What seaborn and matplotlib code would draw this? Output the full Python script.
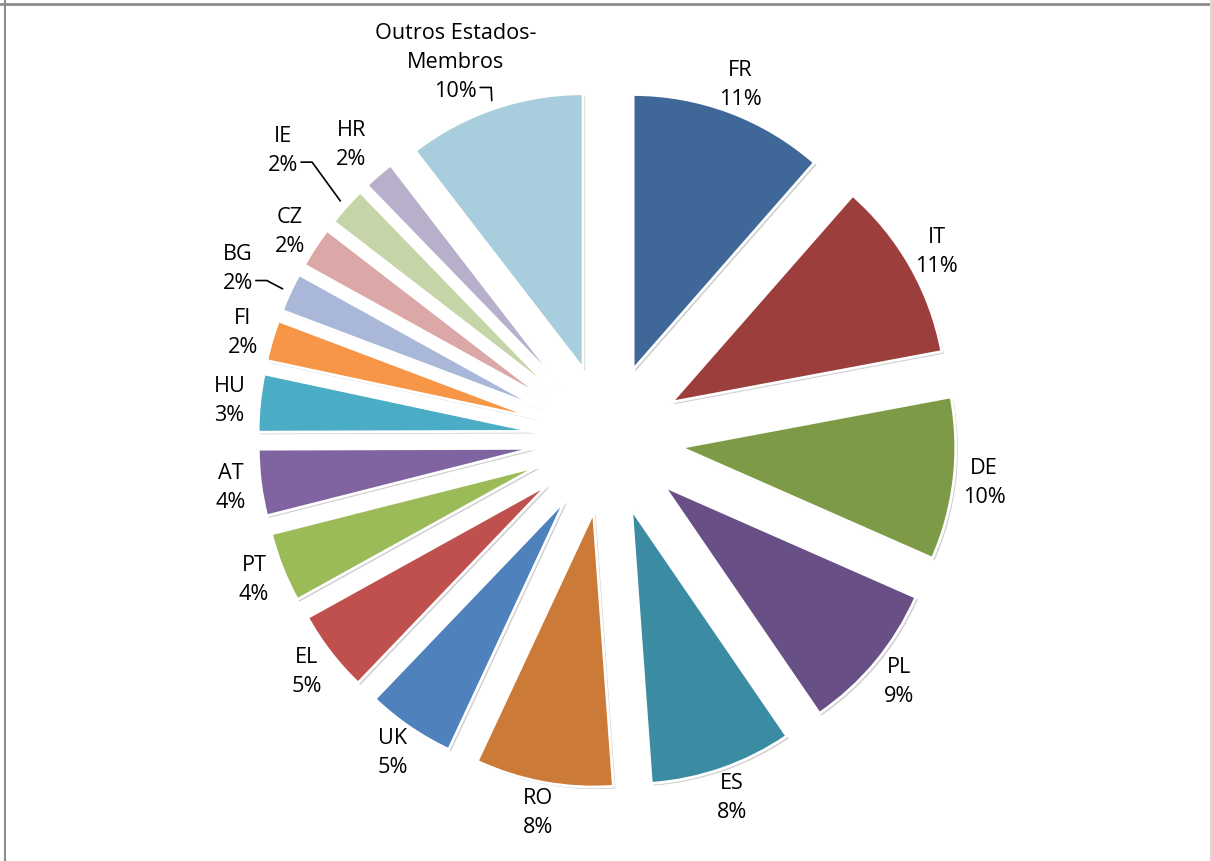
import numpy as np
import matplotlib.pyplot as plt
import matplotlib.patheffects as pe
from matplotlib.lines import Line2D
import seaborn as sns

# shares per Member State, clockwise from 12 o'clock
countries = ['FR', 'IT', 'DE', 'PL', 'ES', 'RO', 'UK', 'EL', 'PT', 'AT',
             'HU', 'FI', 'BG', 'CZ', 'IE', 'HR', 'Outros Estados-\nMembros']
shares = [11.45, 10.6, 9.55, 8.85, 8.4, 8.1, 5.2, 4.8, 4.1, 3.9,
          3.4, 2.4, 2.3, 2.4, 2.3, 1.8, 10.45]
colours = ['#3F6797', '#9C3F3C', '#7D9A47', '#684F86', '#3B8CA2', '#CC7A37',
           '#4F81BD', '#C0504D', '#9BBB59', '#8064A2', '#4BACC6', '#F79646',
           '#A9B8D8', '#DBA8A7', '#C6D5A7', '#B8AFCB', '#A8CDDC']

# labels that sit further out (radial push, angle shift in degrees)
pushed = {'BG': (0.10, 0), 'IE': (0.20, 0), 'HR': (0.04, 0),
          'Outros Estados-\nMembros': (0.10, 3)}
leaders = ['BG', 'IE', 'Outros Estados-\nMembros']

sns.set_theme(style='white')
plt.rcParams['font.family'] = ['Open Sans', 'DejaVu Sans']
FS = 15.6

W, H = 1212, 862
fig = plt.figure(figsize=(W / 100, H / 100), dpi=100)
ax = fig.add_axes([0, 0, 1, 1])

expl = 0.27
lab_dist = 1.11
labels = [f'{c}\n{s:.0f}%' for c, s in zip(countries, shares)]
wedges, texts = ax.pie(shares, labels=labels, colors=sns.color_palette(colours),
                       startangle=90, counterclock=False,
                       explode=[expl] * len(shares), labeldistance=lab_dist,
                       wedgeprops=dict(edgecolor='white', linewidth=2),
                       textprops=dict(fontsize=FS, linespacing=1.5, color='black'))

for w in wedges:
    w.set_path_effects([pe.SimplePatchShadow(offset=(1.5, -1.5), shadow_rgbFace='0.45', alpha=0.35),
                        pe.Normal()])

for c, w, t in zip(countries, wedges, texts):
    t.set_ha('center')
    t.set_va('center')
    if c in pushed:
        dr, da = pushed[c]
        a = np.deg2rad((w.theta1 + w.theta2) / 2 + da)
        d = expl + lab_dist + dr
        t.set_position((d * np.cos(a), d * np.sin(a)))

# map pixel layout: centre of the pie at (607, 440) px, radius 275 px
scale = 275
cx, cy = 607, 440
ax.set_xlim(-cx / scale, (W - cx) / scale)
ax.set_ylim(-(H - cy) / scale, cy / scale)
ax.set_aspect('equal', adjustable='box')

fig.canvas.draw()
rend = fig.canvas.get_renderer()
inv = ax.transData.inverted()
for c, w, t in zip(countries, wedges, texts):
    if c not in leaders:
        continue
    bb = t.get_window_extent(rend)
    nlines = len(t.get_text().split('\n'))
    last = t.get_text().split('\n')[-1]
    tmp = ax.text(0, 0, last, fontsize=FS)
    lw_px = tmp.get_window_extent(rend).width
    tmp.remove()
    xc = (bb.x0 + bb.x1) / 2
    x_start = xc + lw_px / 2 + 3
    y_start = bb.y0 + bb.height / nlines / 2
    p0 = inv.transform((x_start, y_start))
    p1 = inv.transform((x_start + 11, y_start))
    a = np.deg2rad((w.theta1 + w.theta2) / 2)
    p2 = ((expl + 1.03) * np.cos(a), (expl + 1.03) * np.sin(a))
    ax.plot([p0[0], p1[0], p2[0]], [p0[1], p1[1], p2[1]], color='black', lw=1.2)

# outer frame of the original chart area
fig.add_artist(Line2D([0, 1], [1 - 5 / H] * 2, transform=fig.transFigure, color='#8c8c8c', lw=2))
fig.add_artist(Line2D([4.5 / W] * 2, [0, 1], transform=fig.transFigure, color='#8c8c8c', lw=1.5))
fig.add_artist(Line2D([1210.5 / W] * 2, [0, 1], transform=fig.transFigure, color='#d9d9d9', lw=1.5))

fig.savefig('out.png', dpi=100)
